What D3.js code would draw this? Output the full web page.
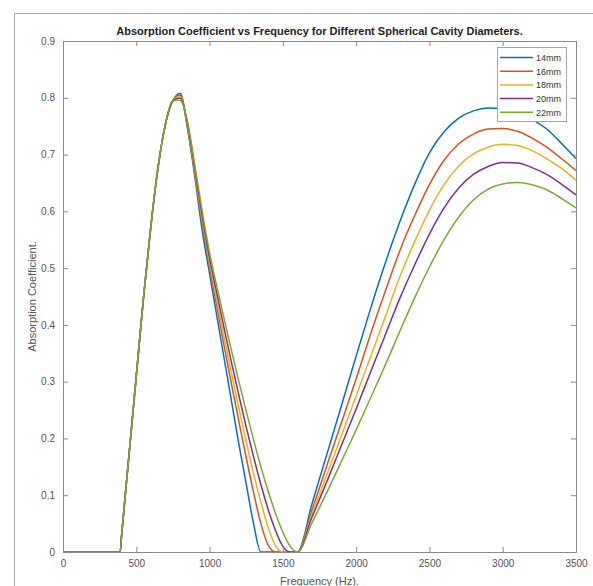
<!DOCTYPE html>
<html><head><meta charset="utf-8">
<script src="https://cdn.jsdelivr.net/npm/d3@7"></script>
<style>body{margin:0;background:#fff}svg{display:block}text{font-family:"Liberation Sans",Arial,sans-serif}</style>
</head><body><svg id="c" width="593" height="586"></svg>
<script>
const freq = [0,390,400,450,500,550,600,650,700,750,
  800,850,900,950,1000,1050,1100,1150,1200,1250,1300,1350,1400,1450,1500,1550,1600,
  1700,1800,1900,2000,2100,2200,2300,2400,2500,2600,2700,2800,2900,3000,3100,3200,3300,3400,3500];
const rise = [0,0,0.03,0.17,0.31,0.45,0.575,0.68,0.755,0.795];
const d14 = rise.concat([0.808,0.745,0.66,0.565,0.49,0.415,0.34,0.265,0.19,0.12,0.05,0,0,0,0,0,0,
  0.086,0.172,0.258,0.345,0.43,0.51,0.583,0.648,0.703,0.74,0.764,0.777,0.782,0.781,0.775,0.762,0.745,0.72,0.693]);
const d16 = rise.concat([0.805,0.748,0.665,0.578,0.502,0.432,0.362,0.295,0.23,0.166,0.105,0.05,0.012,0,0,0,0,
  0.075,0.152,0.228,0.305,0.385,0.46,0.532,0.593,0.647,0.69,0.719,0.736,0.745,0.746,0.741,0.729,0.713,0.693,0.672]);
const d18 = rise.concat([0.802,0.751,0.67,0.585,0.51,0.443,0.377,0.314,0.253,0.195,0.139,0.088,0.043,0.011,0,0,0,
  0.068,0.136,0.205,0.275,0.345,0.415,0.486,0.547,0.602,0.647,0.68,0.701,0.713,0.718,0.716,0.707,0.693,0.676,0.655]);
const d20 = rise.concat([0.799,0.754,0.675,0.592,0.518,0.455,0.393,0.333,0.276,0.22,0.168,0.119,0.075,0.038,0.01,0,0,
  0.062,0.124,0.188,0.252,0.318,0.383,0.448,0.506,0.56,0.606,0.641,0.665,0.679,0.686,0.685,0.677,0.665,0.648,0.629]);
const d22 = rise.concat([0.795,0.757,0.68,0.6,0.527,0.467,0.41,0.354,0.3,0.248,0.198,0.15,0.107,0.068,0.035,0.01,0,
  0.052,0.105,0.16,0.215,0.272,0.33,0.39,0.448,0.502,0.55,0.59,0.62,0.639,0.648,0.651,0.647,0.638,0.623,0.606]);
const seriesNames = ["14mm","16mm","18mm","20mm","22mm"];
const seriesData = [d14,d16,d18,d20,d22];
const colors = ["#0072BD","#D95319","#EDB120","#7E2F8E","#77AC30"];
const xTicks = [0,500,1000,1500,2000,2500,3000,3500];
const yTicks = [0,0.1,0.2,0.3,0.4,0.5,0.6,0.7,0.8,0.9];

const svg = d3.select("#c");
svg.append("rect").attr("width",593).attr("height",586).attr("fill","#fff");
svg.append("path").attr("d","M14.5,586V13.5H593").attr("fill","none").attr("stroke","#a6a6a6");

const L=63,R=576,T=41,B=552;
const x = d3.scaleLinear().domain([0,3500]).range([L,R]);
const y = d3.scaleLinear().domain([0,0.9]).range([B,T]);
const axisCol="#8a8a8a", txtCol="#555";

const g = svg.append("g");
const line = d3.line().x((d,i)=>x(freq[i])).y(d=>y(d)).curve(d3.curveMonotoneX);
seriesData.forEach((d,i)=>{
  g.append("path").attr("d",line(d)).attr("fill","none").attr("stroke",colors[i]).attr("stroke-width",1.5);
});

const ax = svg.append("g");
const xb = ax.append("g").attr("transform",`translate(0,${B})`).call(d3.axisBottom(x).tickValues(xTicks).tickSizeInner(-5).tickSizeOuter(0).tickPadding(8).tickFormat(d3.format("d")));
ax.append("g").attr("transform",`translate(0,${T})`).call(d3.axisTop(x).tickValues(xTicks).tickSizeInner(-5).tickSizeOuter(0).tickFormat(""));
ax.append("g").attr("transform",`translate(${L},0)`).call(d3.axisLeft(y).tickValues(yTicks).tickSizeInner(-5).tickSizeOuter(0).tickPadding(8).tickFormat(d=>d===0?"0":d3.format(".1f")(d)));
ax.append("g").attr("transform",`translate(${R},0)`).call(d3.axisRight(y).tickValues(yTicks).tickSizeInner(-5).tickSizeOuter(0).tickFormat(""));
ax.selectAll(".domain").attr("stroke",axisCol);
ax.selectAll(".tick line").attr("stroke",axisCol);
ax.selectAll(".tick text").attr("fill",txtCol).style("font-size","10px");
xb.selectAll(".tick text").attr("dy","0.71em").attr("y",8);

svg.append("text").attr("x",(L+R)/2).attr("y",35).attr("text-anchor","middle")
  .style("font-size","11px").style("font-weight","bold").attr("fill","#222")
  .text("Absorption Coefficient vs Frequency for Different Spherical Cavity Diameters.");
svg.append("text").attr("x",(L+R)/2).attr("y",585).attr("text-anchor","middle")
  .style("font-size","11px").attr("fill",txtCol).text("Frequency (Hz).");
svg.append("text").attr("transform",`translate(36,${(T+B)/2}) rotate(-90)`).attr("text-anchor","middle")
  .style("font-size","11px").attr("fill",txtCol).text("Absorption Coefficient.");

const lg = svg.append("g");
lg.append("rect").attr("x",497.5).attr("y",47.5).attr("width",69).attr("height",74).attr("fill","#fff").attr("stroke","#a6a6a6");
seriesNames.forEach((n,i)=>{
  const yy = 57.5 + i*13.7;
  lg.append("line").attr("x1",500).attr("x2",533).attr("y1",yy).attr("y2",yy).attr("stroke",colors[i]).attr("stroke-width",1.5);
  lg.append("text").attr("x",536).attr("y",yy+3.3).style("font-size","9px").attr("fill","#333").text(n);
});
</script></body></html>
